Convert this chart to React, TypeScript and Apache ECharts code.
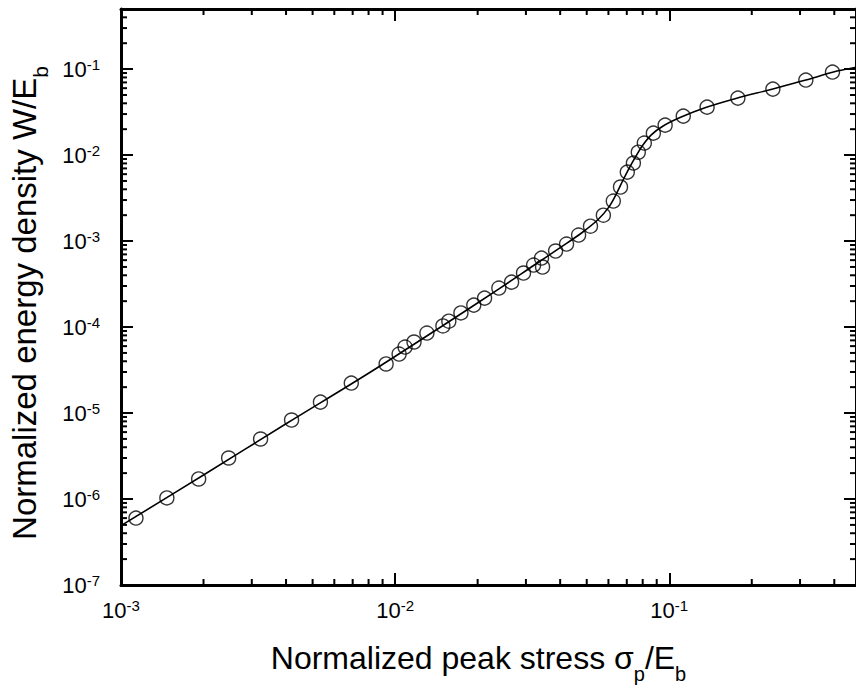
import React, { useEffect, useRef } from "react";
import * as echarts from "echarts";

// Scatter points (normalized peak stress, normalized energy density)
const xValues = [
  1.134e-3, 1.47e-3, 1.92e-3, 2.47e-3, 3.23e-3, 4.19e-3, 5.34e-3, 6.92e-3, 9.27e-3,
  1.034e-2, 1.087e-2, 1.172e-2, 1.306e-2, 1.494e-2, 1.57e-2, 1.738e-2, 1.936e-2, 2.12e-2,
  2.39e-2, 2.66e-2, 2.94e-2, 3.2e-2, 3.42e-2, 3.45e-2, 3.85e-2, 4.22e-2, 4.67e-2, 5.16e-2,
  5.75e-2, 6.25e-2, 6.64e-2, 7.03e-2, 7.4e-2, 7.71e-2, 8.11e-2, 8.75e-2, 9.66e-2, 0.1125,
  0.1374, 0.178, 0.2388, 0.315, 0.394,
];
const yValues = [
  6.0e-7, 1.03e-6, 1.71e-6, 3.0e-6, 4.99e-6, 8.29e-6, 1.34e-5, 2.23e-5, 3.72e-5,
  4.85e-5, 5.85e-5, 6.7e-5, 8.51e-5, 1.03e-4, 1.17e-4, 1.46e-4, 1.8e-4, 2.17e-4,
  2.84e-4, 3.33e-4, 4.25e-4, 5.26e-4, 6.34e-4, 4.99e-4, 7.66e-4, 9.23e-4, 1.175e-3, 1.49e-3,
  2.0e-3, 2.92e-3, 4.25e-3, 6.34e-3, 8.07e-3, 1.08e-2, 1.38e-2, 1.8e-2, 2.23e-2, 2.84e-2,
  3.61e-2, 4.6e-2, 5.85e-2, 7.45e-2, 9.23e-2,
];

// Fitted curve
const fitX = [
  1e-3, 2.0e-3, 4.0e-3, 8.0e-3, 1.5e-2, 2.4e-2, 3.2e-2, 4.0e-2, 4.8e-2, 5.5e-2,
  6.0e-2, 6.4e-2, 6.8e-2, 7.2e-2, 7.6e-2, 8.0e-2, 8.6e-2, 9.5e-2, 0.11, 0.135,
  0.175, 0.235, 0.315, 0.394, 0.48,
];
const fitY = [
  4.9e-7, 1.9e-6, 7.5e-6, 2.9e-5, 1.05e-4, 2.8e-4, 5.2e-4, 8.4e-4, 1.25e-3, 1.78e-3,
  2.45e-3, 3.5e-3, 5.2e-3, 7.4e-3, 1.0e-2, 1.3e-2, 1.72e-2, 2.18e-2, 2.75e-2, 3.55e-2,
  4.55e-2, 5.8e-2, 7.45e-2, 9.2e-2, 0.105,
];

// Axis ranges
const xMin = 1e-3;
const xMax = 0.48;
const yMin = 1e-7;
const yMax = 0.5;

// Minor tick positions (2..9 times each decade)
const xDecades = [1e-3, 1e-2, 1e-1];
const yDecades = [1e-7, 1e-6, 1e-5, 1e-4, 1e-3, 1e-2, 1e-1];
const minorMultipliers = [2, 3, 4, 5, 6, 7, 8, 9];
const xMinorTicks = xDecades
  .flatMap((d) => minorMultipliers.map((m) => m * d))
  .filter((v) => v < xMax);
const yMinorTicks = yDecades
  .flatMap((d) => minorMultipliers.map((m) => m * d))
  .filter((v) => v < yMax);

const FONT = "Liberation Sans, Arial, sans-serif";

const powLabel = (v: number) => {
  const l = Math.log10(v);
  const e = Math.round(l);
  if (Math.abs(l - e) > 1e-6) return "";
  return `{b|10}{s|${e}}`;
};

const labelRich = {
  b: { fontSize: 22, fontFamily: FONT, color: "#000", verticalAlign: "middle" },
  s: { fontSize: 15, fontFamily: FONT, color: "#000", verticalAlign: "middle", padding: [0, 0, 9, 0] },
};

const xNameRich = {
  a: { fontSize: 32, fontFamily: FONT, color: "#000", verticalAlign: "middle" },
  sub: { fontSize: 20, fontFamily: FONT, color: "#000", verticalAlign: "middle", padding: [32, 0, 0, 0] },
};
const yNameRich = {
  a: { fontSize: 33, fontFamily: FONT, color: "#000", verticalAlign: "middle" },
  sub: { fontSize: 21, fontFamily: FONT, color: "#000", verticalAlign: "middle", padding: [32, 0, 0, 0] },
};

const axisLineStyle = { show: true, onZero: false, lineStyle: { color: "#000", width: 3 } };
const majorTick = { show: true, inside: true, length: 12, lineStyle: { color: "#000", width: 2 } };

export default function App() {
  const ref = useRef<HTMLDivElement>(null);

  useEffect(() => {
    if (!ref.current) return;
    const chart = echarts.init(ref.current, undefined, { renderer: "svg" });

    const option: any = {
      animation: false,
      backgroundColor: "#fff",
      grid: { left: 121, top: 9, width: 738, height: 576, containLabel: false },
      xAxis: [
        {
          type: "log",
          logBase: 10,
          min: xMin,
          max: xMax,
          splitNumber: 3,
          position: "bottom",
          axisLine: axisLineStyle,
          axisTick: majorTick,
          splitLine: { show: false },
          axisLabel: {
            margin: 13,
            fontSize: 22,
            fontFamily: FONT,
            color: "#000",
            formatter: powLabel,
            rich: labelRich,
            showMaxLabel: false,
          },
          name: "{a|Normalized peak stress σ}{sub|p}{a|/E}{sub|b}",
          nameLocation: "middle",
          nameGap: 47,
          nameTextStyle: {
            fontSize: 32,
            fontFamily: FONT,
            color: "#000",
            rich: xNameRich,
            padding: [0, 20, 0, 0],
          },
        },
        {
          type: "log",
          logBase: 10,
          min: xMin,
          max: xMax,
          splitNumber: 3,
          position: "top",
          axisLine: axisLineStyle,
          axisTick: majorTick,
          splitLine: { show: false },
          axisLabel: { show: false },
        },
      ],
      yAxis: [
        {
          type: "log",
          logBase: 10,
          min: yMin,
          max: yMax,
          splitNumber: 7,
          position: "left",
          axisLine: axisLineStyle,
          axisTick: majorTick,
          splitLine: { show: false },
          axisLabel: {
            margin: 21,
            fontSize: 22,
            fontFamily: FONT,
            color: "#000",
            formatter: powLabel,
            rich: labelRich,
            showMaxLabel: false,
          },
          name: "{a|Normalized energy density W/E}{sub|b}",
          nameLocation: "middle",
          nameGap: 64,
          nameTextStyle: {
            fontSize: 33,
            fontFamily: FONT,
            color: "#000",
            rich: yNameRich,
            padding: [0, 12, 0, 0],
          },
        },
        {
          type: "log",
          logBase: 10,
          min: yMin,
          max: yMax,
          splitNumber: 7,
          position: "right",
          axisLine: axisLineStyle,
          axisTick: majorTick,
          splitLine: { show: false },
          axisLabel: { show: false },
        },
      ],
      series: [
        {
          type: "custom",
          name: "xMinor",
          silent: true,
          xAxisIndex: 0,
          yAxisIndex: 0,
          data: xMinorTicks.map((v) => [v, yMin]),
          renderItem: (params: any, api: any) => {
            const p = api.coord([api.value(0), yMin]);
            const cs = params.coordSys;
            const st = { stroke: "#000", lineWidth: 2 };
            return {
              type: "group",
              children: [
                { type: "line", shape: { x1: p[0], y1: cs.y + cs.height, x2: p[0], y2: cs.y + cs.height - 6 }, style: st },
                { type: "line", shape: { x1: p[0], y1: cs.y, x2: p[0], y2: cs.y + 6 }, style: st },
              ],
            };
          },
        },
        {
          type: "custom",
          name: "yMinor",
          silent: true,
          xAxisIndex: 0,
          yAxisIndex: 0,
          data: yMinorTicks.map((v) => [xMin, v]),
          renderItem: (params: any, api: any) => {
            const p = api.coord([xMin, api.value(1)]);
            const cs = params.coordSys;
            const st = { stroke: "#000", lineWidth: 2 };
            return {
              type: "group",
              children: [
                { type: "line", shape: { x1: cs.x, y1: p[1], x2: cs.x + 6, y2: p[1] }, style: st },
                { type: "line", shape: { x1: cs.x + cs.width, y1: p[1], x2: cs.x + cs.width - 6, y2: p[1] }, style: st },
              ],
            };
          },
        },
        {
          type: "line",
          name: "fit",
          data: fitX.map((x, i) => [x, fitY[i]]),
          showSymbol: false,
          smooth: 0.35,
          lineStyle: { color: "#000", width: 1.6 },
          silent: true,
          z: 3,
        },
        {
          type: "scatter",
          name: "data",
          data: xValues.map((x, i) => [x, yValues[i]]),
          symbol: "circle",
          symbolSize: 14,
          itemStyle: { color: "rgba(0,0,0,0)", borderColor: "#000", borderWidth: 1.4 },
          silent: true,
          z: 4,
        },
      ],
    };

    chart.setOption(option);
    return () => chart.dispose();
  }, []);

  return (
    <div
      ref={ref}
      style={{ position: "absolute", left: 0, top: 0, width: 856, height: 689, background: "#fff" }}
    />
  );
}
